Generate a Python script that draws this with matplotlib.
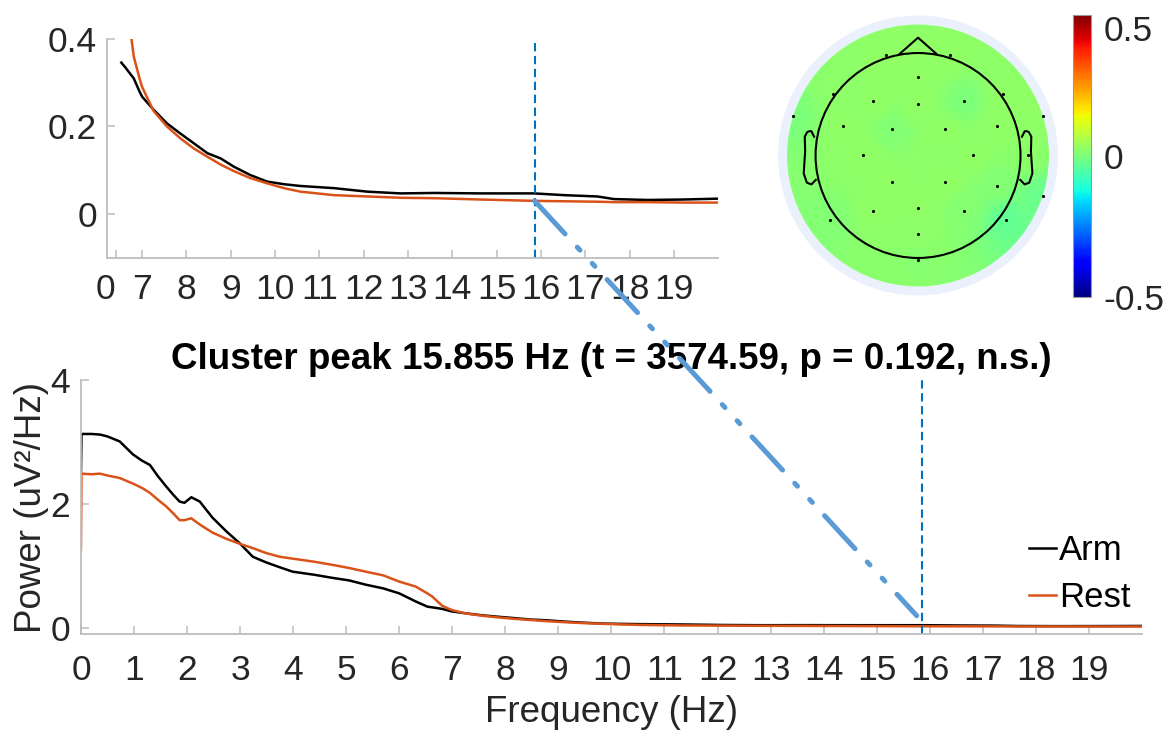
import numpy as np
import matplotlib.pyplot as plt
from matplotlib.patches import Circle, ConnectionPatch

plt.rcParams['font.family'] = ['Liberation Sans', 'DejaVu Sans']

# spectra (uV^2/Hz), averaged over channels
freq = [0, 0.01, 0.2, 0.36, 0.5, 0.73, 0.98, 1.15, 1.3, 1.45, 1.61, 1.75, 1.86,
        1.95, 2.08, 2.24, 2.48, 2.74, 2.99, 3.24, 3.49, 3.75, 3.99, 4.4, 4.74,
        5.05, 5.37, 5.7, 6.0, 6.31, 6.53, 6.62, 6.81, 6.94, 7.0, 7.26, 7.56,
        7.86, 8.16, 8.47, 8.77, 9.07, 9.44, 9.82, 10.2, 10.57, 11.33, 12.08,
        12.83, 13.6, 14.64, 15.84, 16.52, 17.27, 17.65, 18.4, 19.2, 20.0]
arm = [2.5, 3.13, 3.13, 3.12, 3.09, 3.01, 2.80, 2.70, 2.63, 2.45, 2.28, 2.14,
       2.04, 2.02, 2.11, 2.04, 1.78, 1.56, 1.37, 1.15, 1.06, 0.98, 0.91, 0.86,
       0.81, 0.77, 0.70, 0.64, 0.56, 0.43, 0.346, 0.335, 0.31, 0.28, 0.268,
       0.238, 0.207, 0.184, 0.162, 0.139, 0.127, 0.108, 0.089, 0.074, 0.068,
       0.064, 0.059, 0.051, 0.047, 0.048, 0.047, 0.047, 0.043, 0.040, 0.034,
       0.032, 0.033, 0.035]
rest = [1.26, 2.49, 2.48, 2.49, 2.46, 2.42, 2.33, 2.26, 2.18, 2.07, 1.96, 1.84,
        1.74, 1.74, 1.77, 1.67, 1.54, 1.44, 1.36, 1.29, 1.21, 1.15, 1.12, 1.07,
        1.02, 0.97, 0.91, 0.85, 0.75, 0.67, 0.56, 0.51, 0.36, 0.31, 0.29,
        0.235, 0.20, 0.173, 0.150, 0.131, 0.113, 0.098, 0.082, 0.070, 0.059,
        0.051, 0.043, 0.040, 0.037, 0.036, 0.033, 0.030, 0.029, 0.028, 0.027,
        0.027, 0.026, 0.026]

peak_freq = 15.855
peak_t = 3574.59
peak_p = 0.192
zoom_start = 6.5

top_xticks = [6.4] + list(range(7, 20))
top_xlabels = [''] + [str(v) for v in range(7, 20)]
top_yticks = [0, 0.2, 0.4]
top_ylabels = ['0', '0.2', '0.4']
bot_xticks = list(range(0, 20))
bot_yticks = [0, 2, 4]
cbar_ticks = [-0.5, 0, 0.5]
cbar_labels = ['-0.5', '0', '0.5']

# electrode layout (head radius = 1) and t-values at the peak
elec_x = [0, -0.442, 0, 0.446, -0.735, -0.254, 0.26, 0.771, -0.533, 0.54,
          -0.254, 0.26, 0.771, -0.442, 0, 0.446, 0, 0, -0.859, 0.859,
          -1.223, 1.223, -0.826, 0.833, -0.315, 0.315, 1.076, 1.223]
elec_y = [0.764, 0.533, 0.507, 0.533, 0.283, 0.257, 0.257, 0.283, 0, 0,
          -0.26, -0.26, -0.293, -0.537, -0.511, -0.537, -0.767, -1.018, -0.628,
          -0.628, 0.39, 0.39, 0.598, 0.598, 0.976, 0.976, 0, -0.4]
elec_val = [0.025, 0.025, 0.025, 0.0, 0.025, 0.008, 0.025, 0.025, 0.025, 0.025,
            0.025, 0.025, 0.01, 0.025, 0.025, 0.012, 0.022, 0.015, 0.008, -0.03,
            0.0, 0.025, 0.02, 0.025, 0.025, 0.025, 0.02, -0.02]

black = '#000000'
orange = '#D95319'
blue = '#0072BD'
axis_grey = '#BDBDBD'
txt = '#262626'
fs = 25.5

fig = plt.figure(figsize=(11.7, 7.34), dpi=100)
ax_top = fig.add_axes([0.0912, 0.6489, 0.5227, 0.2980])
ax_bot = fig.add_axes([0.0692, 0.1358, 0.9068, 0.3465])
ax_topo = fig.add_axes([0.6607, 0.5906, 0.2479, 0.3951])
cax = fig.add_axes([0.9168, 0.5958, 0.01538, 0.3838])


def style(ax, xpad, ypad):
    for s in ['top', 'right']:
        ax.spines[s].set_visible(False)
    for s in ['left', 'bottom']:
        ax.spines[s].set_color(axis_grey)
        ax.spines[s].set_linewidth(1.3)
    ax.tick_params(direction='in', length=6, width=1.1, color=axis_grey,
                   labelsize=fs, labelcolor=txt)
    ax.tick_params(axis='x', pad=xpad)
    ax.tick_params(axis='y', pad=ypad)


f = np.array(freq)
a = np.array(arm)
r = np.array(rest)

# zoomed view of the upper band
sel = f >= zoom_start
ax_top.plot(f[sel], a[sel], color=black, lw=1.8)
ax_top.plot(f[sel], r[sel], color=orange, lw=1.8)
ax_top.axvline(peak_freq, color=blue, lw=1.5, ls=(0, (4, 2.2)))
ax_top.set_xlim(6.2, 20)
ax_top.set_ylim(-0.1, 0.4)
ax_top.set_xticks(top_xticks)
ax_top.set_xticklabels(top_xlabels)
ax_top.set_yticks(top_yticks)
ax_top.set_yticklabels(top_ylabels)
style(ax_top, 11, 7)
# stray '0' label left of the first tick
ax_top.annotate('0', xy=(6.17, 0), xycoords=('data', 'axes fraction'),
                xytext=(0, -11), textcoords='offset points', fontsize=fs,
                color=txt, ha='center', va='top', annotation_clip=False)

# full spectrum
ax_bot.plot(f, a, color=black, lw=1.8, label='Arm')
ax_bot.plot(f, r, color=orange, lw=1.8, label='Rest')
ax_bot.axvline(peak_freq, color=blue, lw=1.5, ls=(0, (4, 2.2)))
ax_bot.set_xlim(0, 20)
ax_bot.set_ylim(-0.1, 4)
ax_bot.set_xticks(bot_xticks)
ax_bot.set_yticks(bot_yticks)
style(ax_bot, 14, 8)
ax_bot.set_xlabel('Frequency (Hz)', fontsize=26.5, color=txt, labelpad=6)
ax_bot.set_ylabel('Power (uV²/Hz)', fontsize=26.5, color=txt, labelpad=1)
ax_bot.set_title(f'Cluster peak {peak_freq} Hz (t = {peak_t}, p = {peak_p}, n.s.)',
                 fontsize=26.5, fontweight='bold', pad=8)
ax_bot.legend(loc='upper left', bbox_to_anchor=(0.894, 0.395), frameon=False,
              fontsize=25, handlelength=0.75, handletextpad=0.1,
              labelspacing=0.42, borderpad=0, borderaxespad=0)

# topography
ex = np.array(elec_x)
ey = np.array(elec_y)
ev = np.array(elec_val)
gx, gy = np.meshgrid(np.linspace(-1.3, 1.3, 60), np.linspace(-1.3, 1.3, 60))
d = np.hypot(gx[..., None] - ex, gy[..., None] - ey) + 1e-6
w = 1.0 / d ** 3
field = (w * ev).sum(-1) / w.sum(-1)

ax_topo.add_patch(Circle((0, 0), 1.366, facecolor='#EAF1FC', edgecolor='none', zorder=0))
im = ax_topo.imshow(field, extent=(-1.3, 1.3, -1.3, 1.3), origin='lower', cmap='jet',
                    vmin=-0.5, vmax=0.5, interpolation='nearest', zorder=1)
disk = Circle((0, 0), 1.278, transform=ax_topo.transData)
im.set_clip_path(disk)
ax_topo.add_patch(Circle((0, 0), 1.0, fill=False, edgecolor='k', lw=1.5, zorder=3))
ax_topo.plot([-0.18, 0, 0.18], [0.991, 1.15, 0.991], color='k', lw=1.5, zorder=3,
             solid_joinstyle='round')
ear_x = np.array([.497, .510, .518, .5299, .5419, .54, .547, .532, .510, .489]) * 2
ear_y = np.array([.0555, .0775, .0783, .0746, .0555, -.0055, -.0932, -.1313, -.1384, -.1199]) * 2.4 + 0.05
ax_topo.plot(ear_x * 1.02, ear_y, color='k', lw=1.5, zorder=3)
ax_topo.plot(-ear_x * 1.02, ear_y, color='k', lw=1.5, zorder=3)
ax_topo.plot(ex, ey, 'k.', ms=2.5, zorder=4)
ax_topo.set_xlim(-1.415, 1.415)
ax_topo.set_ylim(-1.415, 1.415)
ax_topo.set_aspect('equal')
ax_topo.axis('off')

cb = fig.colorbar(im, cax=cax, ticks=cbar_ticks)
cb.ax.set_yticklabels(cbar_labels)
cb.ax.tick_params(labelsize=fs, length=0, pad=9, labelcolor=txt)
cb.ax.get_yticklabels()[-1].set_va('top')
cb.outline.set_edgecolor('#9a9a9a')
cb.outline.set_linewidth(0.8)

# link the peak in the zoomed panel to the full spectrum
con = ConnectionPatch(xyA=(peak_freq, np.interp(peak_freq, f, r)), coordsA=ax_top.transData,
                      xyB=(peak_freq - 0.1, 0.2), coordsB=ax_bot.transData,
                      color='#5B9BD5', lw=3.6, linestyle=(0, (9, 3.6, 0.8, 3.6, 0.8, 3.6)),
                      shrinkA=0, shrinkB=0, zorder=5)
fig.add_artist(con)

fig.savefig('out.png', dpi=100)
